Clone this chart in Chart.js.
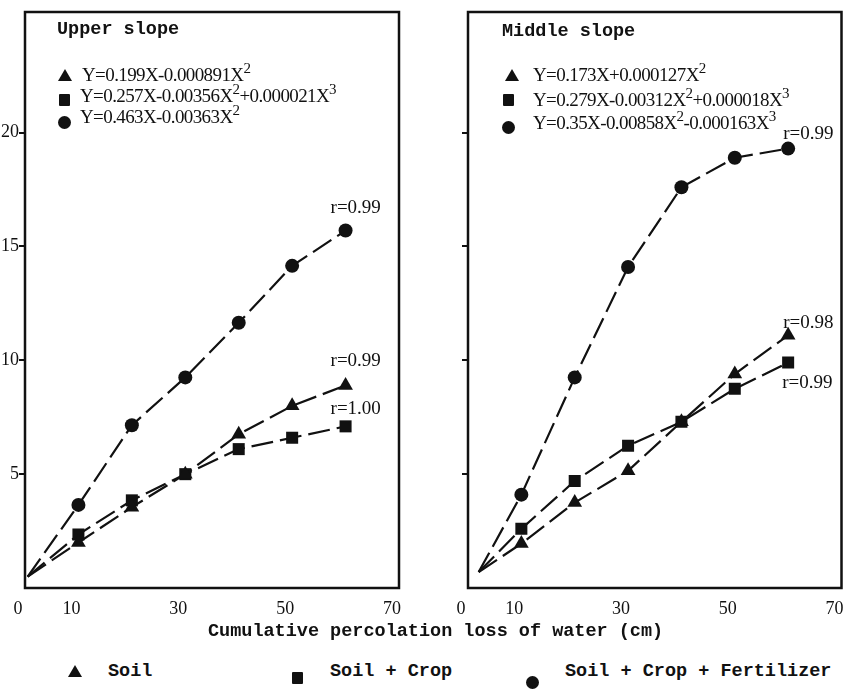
<!DOCTYPE html>
<html>
<head>
<meta charset="utf-8">
<script src="https://cdn.jsdelivr.net/npm/chart.js@4.4.1/dist/chart.umd.min.js"></script>
<style>
  body { margin: 0; background: #fff; }
  #wrap { position: relative; width: 845px; height: 696px; overflow: hidden; color: #111; }
  #upper { position: absolute; left: 0; top: 0; }
  #middle { position: absolute; left: 440px; top: 0; }
  .mono { position: absolute; font-family: "Liberation Mono", monospace; font-weight: bold; font-size: 18.5px; line-height: 20px; white-space: nowrap; }
  .eq { position: absolute; font-family: "Liberation Serif", serif; font-size: 19px; letter-spacing: -0.6px; line-height: 20px; white-space: nowrap; }
  .eq sup { font-size: 15px; vertical-align: 8px; line-height: 0; }
  .tri { position: absolute; width: 0; height: 0; border-left: 7px solid transparent; border-right: 7px solid transparent; border-bottom: 12px solid #111; }
  .sq { position: absolute; width: 11px; height: 12px; background: #111; border-radius: 1px; }
  .dot { position: absolute; width: 13px; height: 13px; background: #111; border-radius: 50%; }
</style>
</head>
<body>
<div id="wrap">
  <canvas id="upper" width="420" height="625"></canvas>
  <canvas id="middle" width="410" height="625"></canvas>

  <div class="mono" style="left:57px; top:20px;">Upper slope</div>
  <div class="tri" style="left:58px; top:69px;"></div>
  <div class="eq" style="left:82px; top:65px;">Y=0.199X-0.000891X<sup>2</sup></div>
  <div class="sq" style="left:59px; top:94px;"></div>
  <div class="eq" style="left:80px; top:86px;">Y=0.257X-0.00356X<sup>2</sup>+0.000021X<sup>3</sup></div>
  <div class="dot" style="left:58px; top:116px;"></div>
  <div class="eq" style="left:80px; top:107px;">Y=0.463X-0.00363X<sup>2</sup></div>

  <div class="mono" style="left:502px; top:22px;">Middle slope</div>
  <div class="tri" style="left:505px; top:69px;"></div>
  <div class="eq" style="left:533px; top:65px;">Y=0.173X+0.000127X<sup>2</sup></div>
  <div class="sq" style="left:503px; top:94px;"></div>
  <div class="eq" style="left:533px; top:90px;">Y=0.279X-0.00312X<sup>2</sup>+0.000018X<sup>3</sup></div>
  <div class="dot" style="left:502px; top:121px;"></div>
  <div class="eq" style="left:533px; top:113px;">Y=0.35X-0.00858X<sup>2</sup>-0.000163X<sup>3</sup></div>

  <div class="mono" style="left:208px; top:622px;">Cumulative percolation loss of water (cm)</div>

  <div class="tri" style="left:68px; top:665px;"></div>
  <div class="mono" style="left:108px; top:662px;">Soil</div>
  <div class="sq" style="left:292px; top:672px;"></div>
  <div class="mono" style="left:330px; top:662px;">Soil + Crop</div>
  <div class="dot" style="left:526px; top:676px;"></div>
  <div class="mono" style="left:565px; top:662px;">Soil + Crop + Fertilizer</div>
</div>

<script>
// percolation loss (cm)
const upperX = [0.5, 10, 20, 30, 40, 50, 60];
const middleX = [2, 10, 20, 30, 40, 50, 60];

// upper slope
const upperSoil = [0.5, 2.0, 3.55, 5.0, 6.75, 8.0, 8.9];
const upperCrop = [0.5, 2.35, 3.85, 5.0, 6.1, 6.6, 7.1];
const upperFert = [0.5, 3.65, 7.15, 9.25, 11.65, 14.15, 15.7];

// middle slope
const middleSoil = [0.7, 1.95, 3.75, 5.15, 7.3, 9.4, 11.1];
const middleCrop = [0.7, 2.6, 4.7, 6.25, 7.3, 8.75, 9.9];
const middleFert = [0.7, 4.1, 9.25, 14.1, 17.6, 18.9, 19.3];

const yTickValues = [5, 10, 15, 20];
const xTickLabels = [0, 10, 30, 50, 70];

const upperR = ["r=0.99", "r=1.00", "r=0.99"];   // soil, crop, fert
const middleR = ["r=0.98", "r=0.99", "r=0.99"];

const ink = "#111";

// box round the plot area
const framePlugin = {
  id: "frame",
  afterDraw(chart) {
    const a = chart.chartArea, ctx = chart.ctx;
    ctx.save();
    ctx.strokeStyle = ink;
    ctx.lineWidth = 2.5;
    ctx.strokeRect(a.left, a.top, a.right - a.left, a.bottom - a.top);
    ctx.restore();
  }
};

// r= labels next to last point of each curve
const rLabelPlugin = {
  id: "rlabels",
  afterDatasetsDraw(chart, args, opts) {
    const ctx = chart.ctx;
    ctx.save();
    ctx.fillStyle = ink;
    ctx.font = "19px 'Liberation Serif', serif";
    ctx.textBaseline = "middle";
    opts.items.forEach((it, i) => {
      const meta = chart.getDatasetMeta(i);
      const p = meta.data[meta.data.length - 1];
      ctx.fillText(it.text, p.x + it.dx, p.y + it.dy);
    });
    ctx.restore();
  }
};

function series(xs, ys) {
  return xs.map((x, i) => ({ x: x, y: ys[i] }));
}

function radii(n, r) {
  return Array.from({ length: n }, (_, i) => (i === 0 ? 0 : r));
}

function dataset(label, xs, ys, style, r) {
  return {
    label: label,
    data: series(xs, ys),
    borderColor: ink,
    backgroundColor: ink,
    borderWidth: 2.2,
    borderDash: [22, 7],
    pointStyle: style,
    pointRadius: radii(xs.length, r),
    pointBorderWidth: 0,
    tension: 0
  };
}

function makePanel(id, xs, soil, crop, fert, showY, yWidth, padRight, rText, rOffsets) {
  return new Chart(document.getElementById(id), {
    type: "line",
    data: {
      datasets: [
        dataset("Soil", xs, soil, "triangle", 8.5),
        dataset("Soil + Crop", xs, crop, "rect", 8.5),
        dataset("Soil + Crop + Fertilizer", xs, fert, "circle", 7)
      ]
    },
    options: {
      responsive: false,
      animation: false,
      layout: { padding: { top: 12, right: padRight, left: 0, bottom: 0 } },
      plugins: {
        legend: { display: false },
        tooltip: { enabled: false },
        rlabels: {
          items: rText.map((t, i) => ({ text: t, dx: rOffsets[i][0], dy: rOffsets[i][1] }))
        }
      },
      scales: {
        x: {
          type: "linear",
          min: 0,
          max: 70,
          border: { display: false },
          grid: { display: false, drawTicks: false },
          ticks: {
            stepSize: 10,
            padding: 10,
            labelOffset: -7,
            color: ink,
            font: { family: "'Liberation Serif', serif", size: 18 },
            callback: (v) => (xTickLabels.includes(v) ? String(v) : "")
          },
          afterFit: (s) => { s.height = 37; s.paddingLeft = 0; s.paddingRight = 0; }
        },
        y: {
          min: 0,
          max: 25.3,
          border: { display: false },
          grid: {
            drawOnChartArea: false,
            tickLength: 6,
            lineWidth: 2,
            color: (c) => (c.tick && yTickValues.includes(c.tick.value) ? ink : "transparent")
          },
          ticks: {
            stepSize: 5,
            padding: 0,
            color: ink,
            font: { family: "'Liberation Serif', serif", size: 18 },
            callback: (v) => (showY && yTickValues.includes(v) ? String(v) : "")
          },
          afterFit: (s) => { s.width = yWidth; }
        }
      }
    },
    plugins: [framePlugin, rLabelPlugin]
  });
}

makePanel("upper", upperX, upperSoil, upperCrop, upperFert, true, 25, 21,
  upperR, [[-15, -24], [-15, -17], [-15, -23]]);
makePanel("middle", middleX, middleSoil, middleCrop, middleFert, false, 28, 8,
  middleR, [[-5, -12], [-6, 20], [-5, -15]]);
</script>
</body>
</html>
